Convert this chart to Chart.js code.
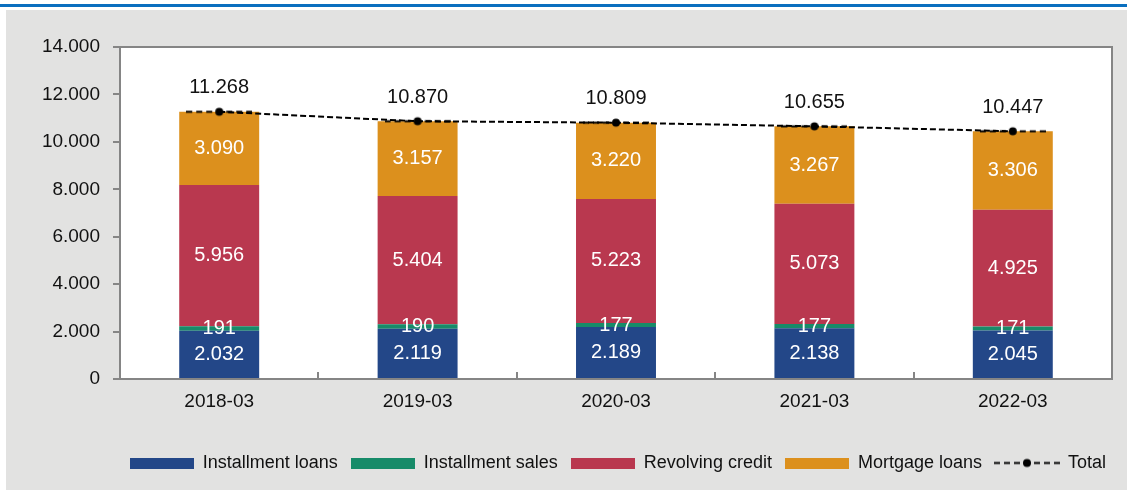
<!DOCTYPE html>
<html>
<head>
<meta charset="utf-8">
<script src="https://cdn.jsdelivr.net/npm/chart.js@4/dist/chart.umd.min.js"></script>
<style>
  body { margin: 0; background: #fff; width: 1127px; height: 492px; position: relative; overflow: hidden; }
  #topline { position: absolute; left: 0; top: 4px; width: 1127px; height: 3px; background: #0a6fbf; }
  #panel { position: absolute; left: 6px; top: 10px; width: 1121px; height: 480px; background: #e2e2e1; }
</style>
</head>
<body>
<div id="topline"></div>
<div id="panel"><canvas id="chart" width="1121" height="480"></canvas></div>
<script>
const categories = ["2018-03", "2019-03", "2020-03", "2021-03", "2022-03"];
const installmentLoans = [2032, 2119, 2189, 2138, 2045];
const installmentSales = [191, 190, 177, 177, 171];
const revolvingCredit = [5956, 5404, 5223, 5073, 4925];
const mortgageLoans = [3090, 3157, 3220, 3267, 3306];
const totals = [11268, 10870, 10809, 10655, 10447];

const FONT = "'Liberation Sans', Arial, sans-serif";

// punto como separador de miles
function fmt(v) {
  return String(Math.round(v)).replace(/\B(?=(\d{3})+(?!\d))/g, ".");
}

// cajas de leyenda anchas
function legendBox(color) {
  const c = document.createElement("canvas");
  c.width = 64; c.height = 11;
  const g = c.getContext("2d");
  g.fillStyle = color;
  g.fillRect(0, 0, 64, 11);
  return c;
}
function legendLine() {
  const c = document.createElement("canvas");
  c.width = 66; c.height = 11;
  const g = c.getContext("2d");
  g.strokeStyle = "#000";
  g.lineWidth = 2;
  g.setLineDash([6, 4]);
  g.beginPath(); g.moveTo(0, 5.5); g.lineTo(66, 5.5); g.stroke();
  g.fillStyle = "#000";
  g.beginPath(); g.arc(33, 5.5, 4, 0, Math.PI * 2); g.fill();
  return c;
}

const frame = {
  id: "frame",
  beforeDraw(chart) {
    // la leyenda va un poco más a la derecha
    chart.legend.right = chart.width - 8;
  },
  beforeDatasetsDraw(chart) {
    const a = chart.chartArea, ctx = chart.ctx;
    ctx.save();
    ctx.fillStyle = "#fff";
    ctx.fillRect(a.left, a.top, a.right - a.left, a.bottom - a.top);
    ctx.restore();
  },
  afterDatasetsDraw(chart) {
    const a = chart.chartArea, ctx = chart.ctx;
    ctx.save();
    ctx.strokeStyle = "#858585";
    ctx.lineWidth = 2;
    ctx.strokeRect(a.left, a.top, a.right - a.left, a.bottom - a.top);
    // marcas hacia dentro entre categorías
    const w = (a.right - a.left) / categories.length;
    ctx.beginPath();
    for (let i = 1; i < categories.length; i++) {
      const x = Math.round(a.left + i * w);
      ctx.moveTo(x, a.bottom); ctx.lineTo(x, a.bottom - 7);
    }
    ctx.stroke();
    ctx.restore();
  },
};

const labels = {
  id: "labels",
  afterDraw(chart) {
    const ctx = chart.ctx;
    ctx.save();
    ctx.font = "20px " + FONT;
    ctx.textAlign = "center";
    ctx.textBaseline = "middle";
    chart.data.datasets.forEach((ds, di) => {
      const meta = chart.getDatasetMeta(di);
      meta.data.forEach((el, i) => {
        if (ds.type === "line") {
          ctx.fillStyle = "#111";
          ctx.fillText(fmt(ds.data[i]), el.x, el.y - 24);
        } else {
          ctx.fillStyle = "#fff";
          ctx.fillText(fmt(ds.data[i]), el.x, (el.y + el.base) / 2);
        }
      });
    });
    ctx.restore();
  },
};

new Chart(document.getElementById("chart").getContext("2d"), {
  data: {
    labels: categories,
    datasets: [
      { type: "bar", label: "Installment loans", data: installmentLoans, backgroundColor: "#234788", pointStyle: legendBox("#234788"), order: 1 },
      { type: "bar", label: "Installment sales", data: installmentSales, backgroundColor: "#178b69", pointStyle: legendBox("#178b69"), order: 1 },
      { type: "bar", label: "Revolving credit", data: revolvingCredit, backgroundColor: "#b9384f", pointStyle: legendBox("#b9384f"), order: 1 },
      { type: "bar", label: "Mortgage loans", data: mortgageLoans, backgroundColor: "#dc901d", pointStyle: legendBox("#dc901d"), order: 1 },
      {
        type: "line", label: "Total", data: totals, stack: "total",
        borderColor: "#000", borderWidth: 2, borderDash: [6, 3],
        pointRadius: 4, pointBackgroundColor: "#000", pointBorderWidth: 0,
        pointStyle: legendLine(), order: 0,
      },
    ],
  },
  options: {
    responsive: false,
    animation: false,
    layout: { padding: { top: 37, right: 15, left: 0, bottom: 8 } },
    datasets: { bar: { barPercentage: 0.403, categoryPercentage: 1 } },
    elements: { point: { pointStyle: "circle" } },
    plugins: {
      tooltip: { enabled: false },
      legend: {
        position: "bottom",
        align: "end",
        labels: {
          usePointStyle: true,
          pointStyleWidth: 64,
          padding: 13,
          color: "#111",
          font: { family: FONT, size: 18 },
          generateLabels(chart) {
            return chart.data.datasets.map((ds, i) => ({
              text: ds.label,
              pointStyle: ds.pointStyle,
              datasetIndex: i,
              lineWidth: 0,
              fontColor: "#111",
            }));
          },
        },
      },
    },
    scales: {
      x: {
        stacked: true,
        grid: { display: false },
        border: { display: false },
        ticks: { color: "#111", font: { family: FONT, size: 19 }, padding: 3 },
        afterFit(s) { s.height = 62; },
      },
      y: {
        stacked: true,
        min: 0, max: 14000,
        ticks: { stepSize: 2000, color: "#111", padding: 13, font: { family: FONT, size: 19 }, callback: (v) => fmt(v) },
        grid: { drawOnChartArea: false, color: "#858585", lineWidth: 2, tickLength: 7 },
        border: { display: false },
        afterFit(s) { s.width = 114; },
      },
    },
  },
  plugins: [frame, labels],
});
</script>
</body>
</html>
